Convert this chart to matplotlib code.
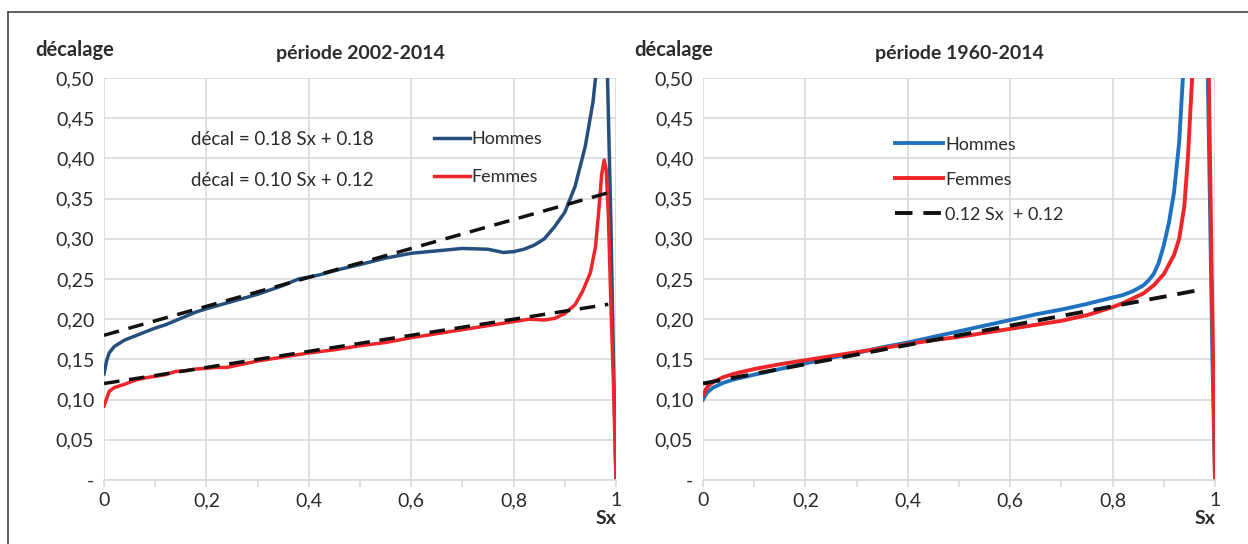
import matplotlib
matplotlib.use("Agg")
import matplotlib.pyplot as plt
from matplotlib.lines import Line2D
from matplotlib.ticker import MultipleLocator, FixedLocator

plt.rcParams['font.family'] = ['Lato', 'DejaVu Sans']

# ---- period 2002-2014 ----
sx_h_a = [0, 0.005, 0.01, 0.02, 0.04, 0.06, 0.08, 0.10, 0.12, 0.15, 0.18, 0.20,
          0.25, 0.30, 0.35, 0.38, 0.42, 0.46, 0.50, 0.55, 0.60, 0.65, 0.70, 0.75,
          0.78, 0.80, 0.82, 0.84, 0.86, 0.88, 0.90, 0.92, 0.94, 0.955, 0.965,
          0.975, 0.982, 0.99, 0.995, 1.0]
dec_h_a = [0.132, 0.148, 0.158, 0.166, 0.174, 0.179, 0.184, 0.189, 0.193, 0.201,
           0.209, 0.213, 0.222, 0.231, 0.242, 0.250, 0.255, 0.262, 0.268, 0.276,
           0.282, 0.285, 0.288, 0.287, 0.283, 0.284, 0.287, 0.292, 0.300, 0.315,
           0.333, 0.365, 0.415, 0.470, 0.530, 0.600, 0.540, 0.320, 0.150, 0.0]

sx_f_a = [0, 0.01, 0.02, 0.04, 0.06, 0.08, 0.10, 0.12, 0.14, 0.16, 0.18, 0.20,
          0.22, 0.24, 0.27, 0.30, 0.35, 0.40, 0.45, 0.50, 0.55, 0.60, 0.65, 0.70,
          0.75, 0.80, 0.83, 0.86, 0.88, 0.90, 0.92, 0.935, 0.95, 0.96, 0.967,
          0.972, 0.977, 0.981, 0.985, 0.99, 0.995, 1.0]
dec_f_a = [0.092, 0.110, 0.115, 0.119, 0.124, 0.127, 0.129, 0.131, 0.135, 0.136,
           0.138, 0.139, 0.140, 0.140, 0.144, 0.148, 0.153, 0.158, 0.162, 0.167,
           0.171, 0.177, 0.182, 0.187, 0.192, 0.197, 0.200, 0.199, 0.201, 0.207,
           0.218, 0.235, 0.258, 0.290, 0.340, 0.380, 0.398, 0.385, 0.330, 0.220,
           0.120, 0.0]

fit_h_a = (0.18, 0.18)   # slope, intercept
fit_f_a = (0.10, 0.12)
fit_end_a = 0.985

# ---- period 1960-2014 ----
sx_h_b = [0, 0.005, 0.01, 0.02, 0.04, 0.06, 0.08, 0.10, 0.15, 0.20, 0.25, 0.30,
          0.35, 0.40, 0.45, 0.50, 0.55, 0.60, 0.65, 0.70, 0.75, 0.80, 0.82, 0.84,
          0.86, 0.87, 0.88, 0.89, 0.90, 0.91, 0.92, 0.93, 0.94, 0.95, 0.965, 0.978,
          0.986, 0.99, 0.995, 1.0]
dec_h_b = [0.100, 0.106, 0.110, 0.115, 0.121, 0.125, 0.128, 0.131, 0.138, 0.145,
           0.152, 0.158, 0.165, 0.171, 0.178, 0.185, 0.192, 0.199, 0.206, 0.212,
           0.219, 0.227, 0.230, 0.235, 0.242, 0.248, 0.256, 0.270, 0.292, 0.320,
           0.358, 0.420, 0.530, 0.620, 0.700, 0.640, 0.500, 0.350, 0.150, 0.0]

sx_f_b = [0, 0.005, 0.01, 0.02, 0.04, 0.06, 0.08, 0.10, 0.15, 0.20, 0.25, 0.30,
          0.35, 0.40, 0.45, 0.50, 0.55, 0.60, 0.65, 0.70, 0.75, 0.80, 0.82, 0.84,
          0.86, 0.88, 0.90, 0.92, 0.93, 0.94, 0.947, 0.952, 0.957, 0.965, 0.975,
          0.983, 0.988, 0.993, 0.997, 1.0]
dec_f_b = [0.105, 0.112, 0.117, 0.122, 0.128, 0.132, 0.135, 0.138, 0.144, 0.149,
           0.154, 0.159, 0.164, 0.169, 0.174, 0.178, 0.183, 0.188, 0.193, 0.198,
           0.205, 0.215, 0.220, 0.226, 0.232, 0.242, 0.256, 0.280, 0.300, 0.340,
           0.400, 0.460, 0.520, 0.620, 0.680, 0.600, 0.500, 0.280, 0.120, 0.0]

fit_b = (0.12, 0.12)
fit_end_b = 0.98

x_ticks = [0, 0.2, 0.4, 0.6, 0.8, 1.0]
x_labels = ["0", "0,2", "0,4", "0,6", "0,8", "1"]
y_ticks = [0, 0.05, 0.10, 0.15, 0.20, 0.25, 0.30, 0.35, 0.40, 0.45, 0.50]
y_labels = ["-", "0,05", "0,10", "0,15", "0,20", "0,25", "0,30", "0,35",
            "0,40", "0,45", "0,50"]

NAVY = "#264f7d"
BLUE = "#1f72c0"
RED = "#ee2529"
GRID = "#d9d9d9"
TXT = "#2b2b2b"
LW = 2.5

W, H = 1248, 544
fig = plt.figure(figsize=(W / 100, H / 100), dpi=100)

# frame around the figure
fig.add_artist(Line2D([8 / W, 1.0], [1 - 12 / H, 1 - 12 / H], transform=fig.transFigure,
                      color="#444444", lw=1.2))
fig.add_artist(Line2D([8 / W, 8 / W], [0, 1 - 12 / H], transform=fig.transFigure,
                      color="#444444", lw=1.2))


def style_axes(ax):
    ax.set_xlim(0, 1)
    ax.set_ylim(0, 0.5)
    ax.xaxis.set_major_locator(FixedLocator(x_ticks))
    ax.set_xticklabels(x_labels)
    ax.xaxis.set_minor_locator(MultipleLocator(0.1))
    ax.yaxis.set_major_locator(FixedLocator(y_ticks))
    ax.set_yticklabels(y_labels)
    ax.grid(True, which="major", color=GRID, lw=1.2)
    ax.set_axisbelow(True)
    for s in ["top", "right", "left"]:
        ax.spines[s].set_visible(False)
    ax.spines["bottom"].set_color(GRID)
    ax.spines["bottom"].set_linewidth(1.2)
    ax.tick_params(axis="x", which="both", direction="out", length=5, width=1.2,
                   color=GRID, labelsize=14, labelcolor=TXT, pad=4)
    ax.tick_params(axis="y", length=0, labelsize=14, labelcolor=TXT, pad=7)
    ax.text(1.0, -0.075, "Sx", transform=ax.transAxes, ha="right", va="top",
            fontsize=14, fontweight="bold", color=TXT)
    ax.text(-0.135, 1.07, "décalage", transform=ax.transAxes, ha="left", va="center",
            fontsize=14.5, fontweight="bold", color=TXT)


ax1 = fig.add_axes([104 / W, 1 - 480 / H, 512 / W, 402 / H])
ax2 = fig.add_axes([703 / W, 1 - 480 / H, 512 / W, 402 / H])
for ax in (ax1, ax2):
    style_axes(ax)

# left panel
lh1, = ax1.plot(sx_h_a, dec_h_a, color=NAVY, lw=LW, solid_joinstyle="round")
lf1, = ax1.plot(sx_f_a, dec_f_a, color=RED, lw=LW, solid_joinstyle="round")
for slope, icpt in (fit_h_a, fit_f_a):
    ax1.plot([0, fit_end_a], [icpt, icpt + slope * fit_end_a], color="#111111",
             lw=LW, dashes=(4.5, 2.8))
ax1.set_title("période 2002-2014", fontsize=14, fontweight="bold", color=TXT,
              pad=14, x=0.5)
ax1.text(0.17, 0.848, "décal = 0.18 Sx + 0.18", transform=ax1.transAxes,
         fontsize=13.5, color=TXT, va="center")
ax1.text(0.17, 0.745, "décal = 0.10 Sx + 0.12", transform=ax1.transAxes,
         fontsize=13.5, color=TXT, va="center")
ax1.legend([lh1, lf1], ["Hommes", "Femmes"], loc="upper left",
           bbox_to_anchor=(0.63, 0.885), frameon=False, fontsize=13,
           handlelength=2.0, handletextpad=0.1, labelspacing=1.2,
           borderaxespad=0, labelcolor=TXT)

# right panel
lh2, = ax2.plot(sx_h_b, dec_h_b, color=BLUE, lw=LW + 0.3, solid_joinstyle="round")
lf2, = ax2.plot(sx_f_b, dec_f_b, color=RED, lw=LW + 0.3, solid_joinstyle="round")
slope, icpt = fit_b
ld2, = ax2.plot([0, fit_end_b], [icpt, icpt + slope * fit_end_b], color="#111111",
                lw=LW + 0.3, dashes=(4.5, 2.8))
ax2.set_title("période 1960-2014", fontsize=14, fontweight="bold", color=TXT,
              pad=14, x=0.5)
ax2.legend([lh2, lf2, ld2], ["Hommes", "Femmes", "0.12 Sx  + 0.12"], loc="upper left",
           bbox_to_anchor=(0.36, 0.872), frameon=False, fontsize=13,
           handlelength=2.7, handletextpad=0.1, labelspacing=1.05,
           borderaxespad=0, labelcolor=TXT)

fig.savefig("out.png", dpi=100)
